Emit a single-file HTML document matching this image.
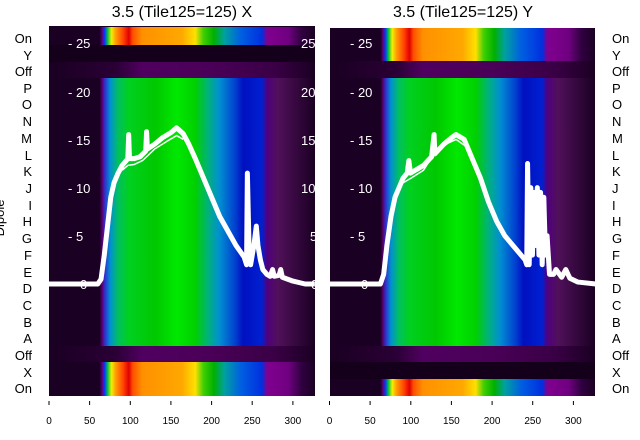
<!DOCTYPE html>
<html><head><style>
body{margin:0;background:#fff;}
svg{display:block;font-family:"Liberation Sans","DejaVu Sans",sans-serif;}
</style></head><body>
<svg width="640" height="440" viewBox="0 0 640 440">
<defs>
<linearGradient id="gG" x1="0" x2="1" y1="0" y2="0">
<stop offset="0" stop-color="#1a0022"/><stop offset="0.19" stop-color="#1a0022"/>
<stop offset="0.20" stop-color="#5a0070"/><stop offset="0.21" stop-color="#3030d0"/>
<stop offset="0.23" stop-color="#0090d0"/><stop offset="0.26" stop-color="#00c060"/>
<stop offset="0.30" stop-color="#00d020"/><stop offset="0.40" stop-color="#00c800"/>
<stop offset="0.48" stop-color="#00e800"/><stop offset="0.55" stop-color="#00d000"/>
<stop offset="0.60" stop-color="#00b080"/><stop offset="0.64" stop-color="#0090d0"/>
<stop offset="0.70" stop-color="#0040d0"/><stop offset="0.73" stop-color="#0010c0"/>
<stop offset="0.80" stop-color="#0020d0"/><stop offset="0.82" stop-color="#500080"/>
<stop offset="0.86" stop-color="#50105a"/><stop offset="1" stop-color="#1a0022"/>
</linearGradient>
<linearGradient id="gO" x1="0" x2="1" y1="0" y2="0">
<stop offset="0" stop-color="#1a0022"/><stop offset="0.19" stop-color="#1a0022"/>
<stop offset="0.20" stop-color="#600080"/><stop offset="0.21" stop-color="#0040ff"/>
<stop offset="0.22" stop-color="#00c040"/><stop offset="0.235" stop-color="#f0f000"/>
<stop offset="0.25" stop-color="#ffa000"/><stop offset="0.28" stop-color="#ff4000"/>
<stop offset="0.30" stop-color="#e00000"/><stop offset="0.315" stop-color="#ff5000"/>
<stop offset="0.35" stop-color="#ff9000"/><stop offset="0.50" stop-color="#ffa800"/>
<stop offset="0.55" stop-color="#ffe000"/><stop offset="0.58" stop-color="#40d000"/>
<stop offset="0.62" stop-color="#00b000"/><stop offset="0.66" stop-color="#00a0a0"/>
<stop offset="0.72" stop-color="#0060e0"/><stop offset="0.80" stop-color="#0030e0"/>
<stop offset="0.82" stop-color="#800090"/><stop offset="0.90" stop-color="#700080"/>
<stop offset="0.95" stop-color="#300040"/><stop offset="1" stop-color="#1a0022"/>
</linearGradient>
<linearGradient id="gF" x1="0" x2="1" y1="0" y2="0">
<stop offset="0" stop-color="#1a0022"/><stop offset="0.25" stop-color="#2a0035"/>
<stop offset="0.35" stop-color="#500060"/><stop offset="0.6" stop-color="#4a0058"/>
<stop offset="0.85" stop-color="#3a0045"/><stop offset="1" stop-color="#1a0022"/>
</linearGradient>
</defs>

<text x="182" y="17" font-size="16" text-anchor="middle">3.5 (Tile125=125) X</text>
<text x="463" y="17" font-size="16" text-anchor="middle">3.5 (Tile125=125) Y</text>

<rect x="49" y="26" width="266" height="370" fill="#1a0022"/>
<rect x="49" y="27" width="266" height="18" fill="url(#gO)"/>
<rect x="49" y="45" width="266" height="17" fill="#14001a"/>
<rect x="49" y="62" width="266" height="16" fill="url(#gF)"/>
<rect x="49" y="78" width="266" height="268" fill="url(#gG)"/>
<rect x="49" y="346" width="266" height="16" fill="url(#gF)"/>
<rect x="49" y="362" width="266" height="34" fill="url(#gO)"/>

<rect x="330" y="28" width="265" height="368" fill="#1a0022"/>
<rect x="330" y="28" width="265" height="33" fill="url(#gO)"/>
<rect x="330" y="61" width="265" height="17" fill="url(#gF)"/>
<rect x="330" y="78" width="265" height="268" fill="url(#gG)"/>
<rect x="330" y="346" width="265" height="16" fill="url(#gF)"/>
<rect x="330" y="362" width="265" height="17" fill="#14001a"/>
<rect x="330" y="379" width="265" height="17" fill="url(#gO)"/>

<g fill="#fff" font-size="13">
<text x="68" y="48">- 25</text><text x="68" y="97">- 20</text><text x="68" y="145">- 15</text>
<text x="68" y="193">- 10</text><text x="68" y="241">- 5</text><text x="80" y="289">0</text>
<text x="301" y="48">25</text><text x="301" y="97">20</text><text x="301" y="145">15</text>
<text x="301" y="193">10</text><text x="310" y="241">5</text><text x="311" y="289">0</text>
<text x="350" y="48">- 25</text><text x="350" y="97">- 20</text><text x="350" y="145">- 15</text>
<text x="350" y="193">- 10</text><text x="350" y="241">- 5</text><text x="361" y="289">0</text>
</g>

<g transform="translate(49,284) scale(0.813,-9.64)" fill="none" stroke="#fff" stroke-linejoin="round">
<polyline vector-effect="non-scaling-stroke" stroke-width="5" points="0,0 60,0 64,0.5 68,3 72,6 76,9 80,10.5 85,11.5 90,12.3 95,12.8 97,13 98,15.5 99,13 105,13 112,13.2 119,13.8 120,15.8 121,14 130,14.5 140,15.2 150,15.7 157,16.2 165,15.6 172,14.5 180,13 190,11 200,9 210,7 220,5.5 230,4 240,2.8 243,2 244,11.5 246,4 248,2 252,4 255,6 257,4 260,2.5 263,1.5 268,1 272,0.8 275,1.5 277,0.8 283,0.9 285,1.5 287,0.7 300,0.3 315,0 327,0"/>
<polyline vector-effect="non-scaling-stroke" stroke-width="1.5" points="90,11.8 97,12.3 105,12.4 115,12.8 130,14 145,14.8 157,15.4 165,15"/>
</g>
<g transform="translate(330,284) scale(0.813,-9.64)" fill="none" stroke="#fff" stroke-linejoin="round">
<polyline vector-effect="non-scaling-stroke" stroke-width="5" points="0,0 62,0 66,1 70,4 75,7 80,9 90,11 95,11.5 97,12.8 99,11.5 105,11.8 115,12.3 125,13.2 128,15.5 129,13.5 140,14.5 150,15.2 155,15.5 165,15 175,13 185,11 195,8.5 205,6.5 215,5 230,3.5 240,2.5 242,2 243,12.5 245,2 247,10 249,3 251,9.5 253,4 255,10 257,3 259,9.5 261,2 263,9 265,3 267,5 270,1 275,1 278,1.5 285,0.7 290,1.5 295,0.6 305,0.2 327,0"/>
<polyline vector-effect="non-scaling-stroke" stroke-width="1.5" points="90,10.5 100,11 115,11.8 130,13.8 145,14.6 155,15 165,14.4"/>
</g>

<g font-size="13" text-anchor="end">
<text x="32" y="43">On</text><text x="32" y="60">Y</text><text x="32" y="76">Off</text>
<text x="32" y="93">P</text><text x="32" y="109">O</text><text x="32" y="126">N</text>
<text x="32" y="143">M</text><text x="32" y="160">L</text><text x="32" y="176">K</text>
<text x="32" y="193">J</text><text x="32" y="210">I</text><text x="32" y="226">H</text>
<text x="32" y="243">G</text><text x="32" y="260">F</text><text x="32" y="277">E</text>
<text x="32" y="293">D</text><text x="32" y="310">C</text><text x="32" y="327">B</text>
<text x="32" y="343">A</text><text x="32" y="360">Off</text><text x="32" y="377">X</text>
<text x="32" y="393">On</text>
</g>
<text transform="translate(4,218) rotate(-90)" font-size="13" text-anchor="middle">Dipole</text>

<g font-size="13">
<text x="612" y="43">On</text><text x="612" y="60">Y</text><text x="612" y="76">Off</text>
<text x="612" y="93">P</text><text x="612" y="109">O</text><text x="612" y="126">N</text>
<text x="612" y="143">M</text><text x="612" y="160">L</text><text x="612" y="176">K</text>
<text x="612" y="193">J</text><text x="612" y="210">I</text><text x="612" y="226">H</text>
<text x="612" y="243">G</text><text x="612" y="260">F</text><text x="612" y="277">E</text>
<text x="612" y="293">D</text><text x="612" y="310">C</text><text x="612" y="327">B</text>
<text x="612" y="343">A</text><text x="612" y="360">Off</text><text x="612" y="377">X</text>
<text x="612" y="393">On</text>
</g>

<g stroke="#000" stroke-width="1">
<line x1="49" y1="401" x2="49" y2="405"/><line x1="89.6" y1="401" x2="89.6" y2="405"/><line x1="130.3" y1="401" x2="130.3" y2="405"/><line x1="170.9" y1="401" x2="170.9" y2="405"/><line x1="211.6" y1="401" x2="211.6" y2="405"/><line x1="252.2" y1="401" x2="252.2" y2="405"/><line x1="292.9" y1="401" x2="292.9" y2="405"/>
<line x1="329.5" y1="401" x2="329.5" y2="405"/><line x1="370.1" y1="401" x2="370.1" y2="405"/><line x1="410.8" y1="401" x2="410.8" y2="405"/><line x1="451.4" y1="401" x2="451.4" y2="405"/><line x1="492.1" y1="401" x2="492.1" y2="405"/><line x1="532.7" y1="401" x2="532.7" y2="405"/><line x1="573.4" y1="401" x2="573.4" y2="405"/>
</g>
<g font-size="10" text-anchor="middle">
<text x="49" y="424">0</text><text x="89.6" y="424">50</text><text x="130.3" y="424">100</text><text x="170.9" y="424">150</text><text x="211.6" y="424">200</text><text x="252.2" y="424">250</text><text x="292.9" y="424">300</text>
<text x="329.5" y="424">0</text><text x="370.1" y="424">50</text><text x="410.8" y="424">100</text><text x="451.4" y="424">150</text><text x="492.1" y="424">200</text><text x="532.7" y="424">250</text><text x="573.4" y="424">300</text>
</g>
</svg>
</body></html>
